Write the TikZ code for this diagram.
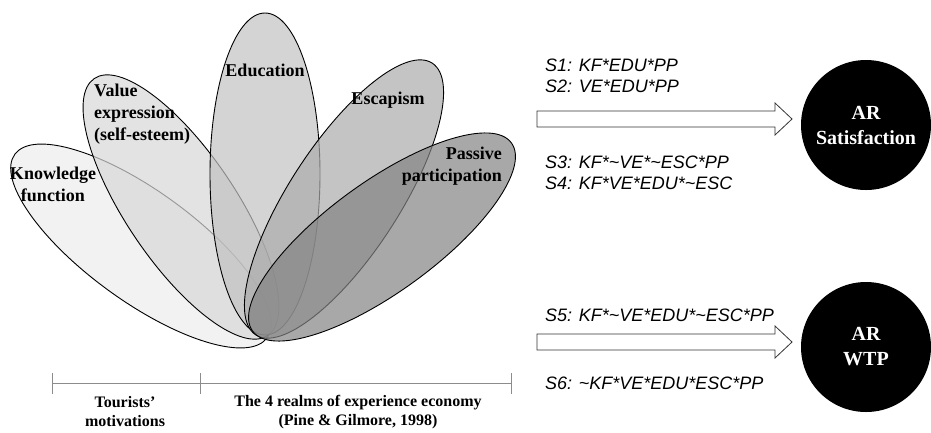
\documentclass[tikz,border=0pt]{standalone}
\usepackage{fontspec}
\setmainfont{Liberation Serif}
\setsansfont{Liberation Sans}
\usetikzlibrary{calc}
\definecolor{kfc}{HTML}{EDEDED}
\definecolor{vec}{HTML}{D7D7D7}
\definecolor{educ}{HTML}{C2C2C2}
\definecolor{escc}{HTML}{ABABAB}
\definecolor{ppc}{HTML}{838383}
\definecolor{tick}{HTML}{8C8C8C}
\tikzset{
  petal/.style={draw=black, line width=0.9pt, fill opacity=0.7},
  lab/.style={font=\fontsize{18}{22}\selectfont\bfseries, inner sep=0pt},
  cfg/.style={font=\fontsize{18}{21}\selectfont\sffamily\itshape, anchor=west, inner sep=0pt},
  outc/.style={circle, fill=black, text=white, minimum size=130pt, inner sep=0pt,
    font=\fontsize{20}{25}\selectfont\bfseries, align=center},
  barrow/.style={draw=black!80, line width=0.8pt, fill=white, line join=miter},
  axis/.style={draw=tick, line width=0.8pt},
  foot/.style={font=\fontsize{16}{19}\selectfont\bfseries, align=center, inner sep=0pt},
}
\newcommand{\blockarrow}[2]{%
  \draw[barrow] ($(#1)+(0,-8)$) -- ($(#2)+(-17,-8)$) -- ($(#2)+(-17,-16)$) -- (#2)
    -- ($(#2)+(-17,16)$) -- ($(#2)+(-17,8)$) -- ($(#1)+(0,8)$) -- cycle;}

\begin{document}
\begin{tikzpicture}[x=1pt,y=-1pt]
  \useasboundingbox (0,0) rectangle (931,432);

  % petals
  \draw[petal, fill=kfc, shift={(141,246)}, rotate=144] (0,0) ellipse [x radius=156pt, y radius=55pt];
  \draw[petal, fill=vec, shift={(181,207)}, rotate=124] (0,0) ellipse [x radius=155pt, y radius=55pt];
  \draw[petal, fill=educ, shift={(265,174)}, rotate=90] (0,0) ellipse [x radius=161pt, y radius=55pt];
  \draw[petal, fill=escc, shift={(344,199)}, rotate=57] (0,0) ellipse [x radius=162pt, y radius=55pt];
  \draw[petal, fill=ppc, shift={(382,237)}, rotate=36] (0,0) ellipse [x radius=160pt, y radius=55pt];

  \node[lab, align=center] (kf) at (53,184) {Knowledge\\function};
  \node[lab, align=left, anchor=west] (ve) at (94,114) {Value\\expression\\(self-esteem)};
  \node[lab] (edu) at (265,70) {Education};
  \node[lab] (esc) at (388,100) {Escapism};
  \node[lab, align=right, anchor=east] (pp) at (502,166) {Passive\\participation};

  % outcomes
  \node[outc] (sat) at (866,125) {AR\\Satisfaction};
  \node[outc] (wtp) at (866,347) {AR\\WTP};

  \coordinate (a1) at (537,119);
  \coordinate (h1) at (792,119);
  \coordinate (a2) at (537,342);
  \coordinate (h2) at (792,342);
  \blockarrow{a1}{h1}
  \blockarrow{a2}{h2}

  \node[cfg] (s1) at (545,65) {S1: KF*EDU*PP};
  \node[cfg] (s2) at (545,86) {S2: VE*EDU*PP};
  \node[cfg] (s3) at (545,162) {S3: KF*\textasciitilde VE*\textasciitilde ESC*PP};
  \node[cfg] (s4) at (545,183) {S4: KF*VE*EDU*\textasciitilde ESC};
  \node[cfg] (s5) at (545,315) {S5: KF*\textasciitilde VE*EDU*\textasciitilde ESC*PP};
  \node[cfg] (s6) at (545,383) {S6: \textasciitilde KF*VE*EDU*ESC*PP};

  % scale at the bottom
  \coordinate (t0) at (52,383);
  \coordinate (t1) at (200,383);
  \coordinate (t2) at (511,383);
  \draw[axis] (t0) -- (t2);
  \foreach \t in {t0,t1,t2}
    \draw[axis] ($(\t)+(0,-10)$) -- ($(\t)+(0,11)$);

  \node[foot] (mot) at (125,412) {Tourists’\\motivations};
  \node[foot] (realm) at (358,412) {The 4 realms of experience economy\\(Pine \& Gilmore, 1998)};
\end{tikzpicture}
\end{document}
